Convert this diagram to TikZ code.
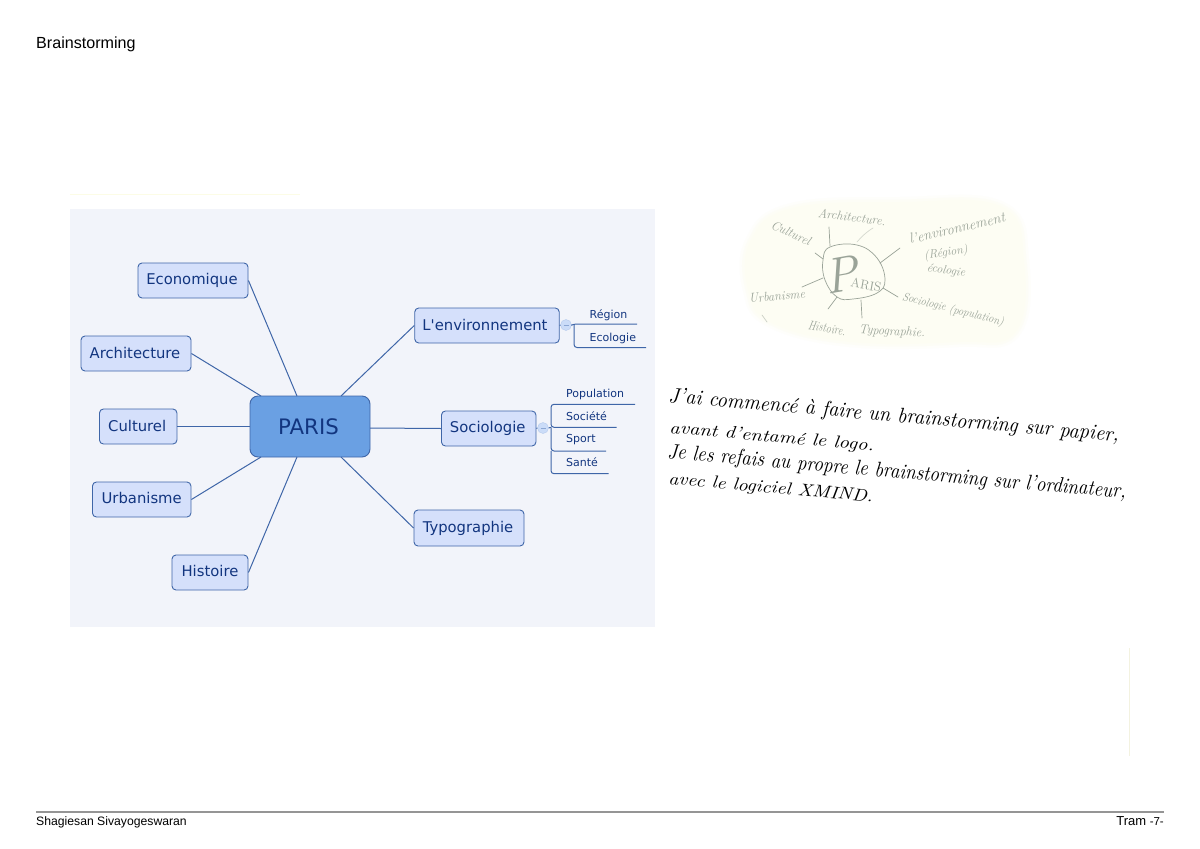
\documentclass[tikz,border=0pt]{standalone}
\usepackage{fontspec}
\usepackage{graphicx}
\newfontfamily\dv{DejaVu Sans}
\newfontfamily\lib{Liberation Sans}
\definecolor{panelc}{HTML}{F2F4FA}
\definecolor{boxc}{HTML}{D5E0FB}
\definecolor{edgec}{HTML}{3F66A8}
\definecolor{inkc}{HTML}{12357F}
\definecolor{rootc}{HTML}{6AA0E3}
\definecolor{knobc}{HTML}{CBDCF8}
\definecolor{pencil}{HTML}{9AA398}
\definecolor{paperc}{HTML}{FDFDF3}
\definecolor{rulec}{HTML}{959595}
\definecolor{faintc}{HTML}{F3F2E0}
\definecolor{faintd}{HTML}{FCFCE6}
\newcommand{\handline}[3]{\resizebox{#1pt}{#2pt}{\itshape #3}}
\newcommand{\tl}[1]{\raisebox{0.8pt}{#1}\hspace*{2pt}}
\tikzset{
  x=1pt,y=-1pt,
  topic/.style={draw=edgec,line width=0.9pt,fill=boxc,rounded corners=4pt,text=inkc,inner sep=0pt,font=\dv\fontsize{14.8}{16}\selectfont},
  root/.style={draw=edgec,line width=0.9pt,fill=rootc,rounded corners=8pt,text=inkc,inner sep=0pt,font=\dv\fontsize{21.3}{23}\selectfont},
  link/.style={draw=edgec,line width=1pt},
  sublink/.style={draw=edgec,line width=1pt,rounded corners=3pt},
  sub/.style={text=inkc,inner sep=0pt,anchor=base west,font=\dv\fontsize{11}{13}\selectfont},
  knob/.style={circle,draw=knobc!85!edgec,line width=0.4pt,fill=knobc,minimum size=11pt,inner sep=0pt},
  knobdash/.style={draw=edgec!45!knobc,line width=0.7pt},
  pen/.style={draw=pencil,line width=0.7pt,line cap=round},
  pentext/.style={text=pencil,inner sep=0pt,font=\itshape\fontsize{12}{13}\selectfont},
  hw/.style={text=black,inner sep=0pt,anchor=base west,rotate=-5},
  plain/.style={text=black,inner sep=0pt,font=\lib\fontsize{12.2}{14}\selectfont}
}
\begin{document}
\begin{tikzpicture}
\path[use as bounding box,fill=white] (0,0) rectangle (1200,849);
\node[plain,anchor=base west,font=\lib\fontsize{16.1}{18}\selectfont] (title) at (36,48.5) {Brainstorming};
% faint scanner marks
\draw[faintd,line width=1pt] (70,194) -- (300,194);
\draw[faintc,line width=1pt] (1129,648) -- (1129,756);
% mind map panel
\fill[panelc] (70,209) rectangle (655,627);
\node[root,minimum width=120pt,minimum height=61pt] (paris) at (310,426.5) {\raisebox{0.5pt}{PARIS}\hspace*{3pt}};
\node[topic,minimum width=110pt,minimum height=35pt] (eco) at (193,280.5) {\tl{Economique}};
\node[topic,minimum width=110pt,minimum height=35pt] (arch) at (136,353.5) {\tl{Architecture}};
\node[topic,minimum width=77.5pt,minimum height=35pt] (cult) at (138.2,426.5) {\tl{Culturel}};
\node[topic,minimum width=98.5pt,minimum height=35pt] (urb) at (141.7,499.5) {\raisebox{3.5pt}{Urbanisme}};
\node[topic,minimum width=76pt,minimum height=35pt] (hist) at (210,572.5) {\raisebox{2.5pt}{Histoire}};
\node[topic,minimum width=144.5pt,minimum height=35pt] (env) at (487,325.5) {\raisebox{0.5pt}{L'environnement}\hspace*{4pt}};
\node[topic,minimum width=94.5pt,minimum height=35pt] (soc) at (488.7,428.5) {Sociologie\hspace*{2pt}};
\node[topic,minimum width=110pt,minimum height=36pt] (typo) at (469,528) {\tl{Typographie}};
\coordinate (pa) at (297,396);
\coordinate (pb) at (261,396);
\coordinate (pc) at (341,396);
\coordinate (pd) at (261,457);
\coordinate (pe) at (297,457);
\coordinate (pf) at (341,457);
\coordinate (pg) at (370,428);
\draw[link] (pa) -- (eco.east);
\draw[link] (pb) -- (arch.east);
\draw[link] (paris.west) -- (cult.east);
\draw[link] (pd) -- (urb.east);
\draw[link] (pe) -- (hist.east);
\draw[link] (pc) -- (env.west);
\draw[link] (pg) -- (soc.west);
\draw[link] (pf) -- (typo.west);
% sub-branches
\node[knob] (k1) at (566,325) {};
\node[knob] (k2) at (543,428) {};
\draw[knobdash] (563.5,325) -- (568.5,325);
\draw[knobdash] (540.5,428) -- (545.5,428);
\node[sub] (reg) at (589.5,318) {Région};
\node[sub] (ecol) at (589.5,341) {Ecologie};
\node[sub] (pop) at (566,397.5) {Population};
\node[sub] (soci) at (566,420.5) {Société};
\node[sub] (spo) at (566,442.5) {Sport};
\node[sub] (san) at (566,466) {Santé};
\coordinate (e1) at (637,324);
\coordinate (e2) at (646,347.5);
\coordinate (e3) at (635,404.3);
\coordinate (e4) at (616.7,427.3);
\coordinate (e5) at (606,451);
\coordinate (e6) at (608.7,473.7);
\draw[link] (env.east) -- (k1.west);
\draw[link] (soc.east) -- (k2.west);
\draw[sublink] (k1.east) -- (574,324) -- (e1);
\draw[sublink] (574,324) -- (574,347.5) -- (e2);
\draw[link] (k2.east) -- (551,427.3);
\draw[sublink] (e3) -- (551,404.3) -- (551,427.3) -- (e4);
\draw[sublink] (551,427.3) -- (551,451) -- (e5);
\draw[sublink] (551,451) -- (551,473.7) -- (e6);
% pencil sketch
\foreach \w/\o in {14/0.3,9/0.5,4/0.8}
  \draw[paperc,line width=\w pt,opacity=\o] plot[smooth cycle,tension=0.7] coordinates {(752,242)(792,210)(900,204)(1000,208)(1022,260)(1014,331)(958,340)(850,340)(772,321)(750,290)};
\fill[paperc] plot[smooth cycle,tension=0.7] coordinates {(752,242)(792,210)(900,204)(1000,208)(1022,260)(1014,331)(958,340)(850,340)(772,321)(750,290)};
\draw[pen] plot[smooth cycle,tension=0.7] coordinates {(830,247)(857,245)(877,258)(885,280)(877,293)(853,299)(837,297)(825,280)(823,260)};
\node[pentext,font=\itshape\fontsize{50}{50}\selectfont,rotate=10] (bigp) at (841,275) {P};
\node[pentext,font=\fontsize{13}{13}\selectfont,rotate=-10] (aris) at (866,285) {ARIS};
\node[pentext,rotate=-7] (s1) at (852,217) {\resizebox{68pt}{9pt}{Architecture.}};
\node[pentext,rotate=13] (s2) at (957,228) {\resizebox{98pt}{10pt}{l'environnement}};
\node[pentext,rotate=8] (s3) at (946,253) {(Région)};
\node[pentext,rotate=-8] (s4) at (946,271) {écologie};
\node[pentext,rotate=-24] (s5) at (791,233) {\resizebox{42pt}{9pt}{Culturel}};
\node[pentext,rotate=5] (s6) at (777,296) {\resizebox{56pt}{9pt}{Urbanisme}};
\node[pentext,rotate=-14] (s7) at (953,310) {\resizebox{104pt}{9pt}{Sociologie (population)}};
\node[pentext,rotate=-10] (s8) at (827,328) {\resizebox{38pt}{9pt}{Histoire.}};
\node[pentext,rotate=-3] (s9) at (892,332) {\resizebox{66pt}{9pt}{Typographie.}};
\draw[pen] (829,227) -- (830,246);
\draw[pen] (815,253) -- (823,259);
\draw[pen] (880,263) -- (900,248);
\draw[pen] (883,288) -- (898,297);
\draw[pen] (861,300) -- (862,318);
\draw[pen] (837,297) -- (828,309);
\draw[pen] (802,287) -- (823,278);
\draw[pen,opacity=0.4] (857,242) .. controls (863,235) and (868,231) .. (873,228);
\draw[pen,opacity=0.5] (762,315) -- (767,322);
% handwriting
\node[hw] (h1) at (668,402) {\handline{452}{15}{J'ai commencé à faire un brainstorming sur papier,}};
\node[hw] (h2) at (669,433) {\handline{205}{12}{avant d'entamé le logo.}};
\node[hw] (h3) at (667,458) {\handline{460}{15}{Je les refais au propre le brainstorming sur l'ordinateur,}};
\node[hw] (h4) at (668,484) {\handline{205}{12}{avec le logiciel XMIND.}};
% footer
\coordinate (fl) at (36,812);
\coordinate (fr) at (1164,812);
\draw[rulec,line width=1.2pt] (fl) -- (fr);
\node[plain,anchor=base west] (author) at (36,825) {Shagiesan Sivayogeswaran};
\node[plain,anchor=base east,font=\lib\fontsize{13}{14}\selectfont] (tram) at (1164,825.5) {Tram {\fontsize{11.5}{12}\selectfont -7-}};
\end{tikzpicture}
\end{document}
